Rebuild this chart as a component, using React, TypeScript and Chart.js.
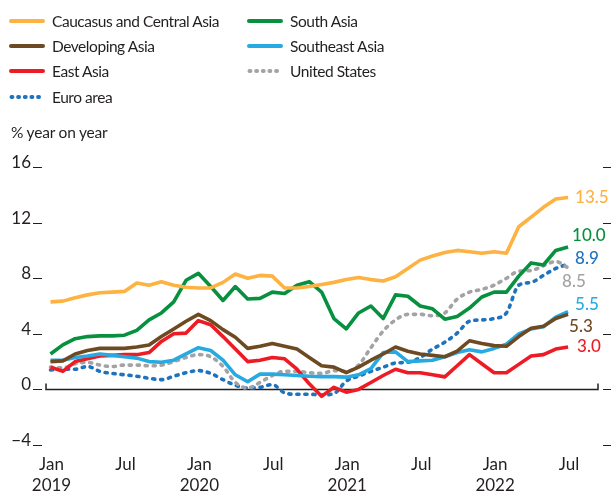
import React, { useEffect, useRef } from "react";
import { Chart, registerables } from "chart.js";

Chart.register(...registerables);

// ---- Data (monthly, Jan 2019 .. Jul 2022) ----
const caucasus = [6.3, 6.35, 6.6, 6.8, 6.95, 7.0, 7.05, 7.65, 7.5, 7.75, 7.5, 7.35, 7.3, 7.3, 7.7, 8.3, 8.0, 8.2, 8.15, 7.3, 7.3, 7.4, 7.55, 7.7, 7.9, 8.05, 7.9, 7.8, 8.1, 8.7, 9.3, 9.6, 9.85, 10.0, 9.9, 9.8, 9.9, 9.8, 11.7, 12.4, 13.1, 13.7, 13.8];
const southAsia = [2.55, 3.2, 3.65, 3.8, 3.85, 3.85, 3.9, 4.25, 5.0, 5.5, 6.3, 7.85, 8.35, 7.4, 6.4, 7.4, 6.5, 6.55, 7.0, 6.9, 7.5, 7.75, 7.0, 5.1, 4.35, 5.5, 6.0, 5.1, 6.8, 6.7, 6.0, 5.8, 5.05, 5.25, 5.85, 6.65, 7.0, 7.0, 8.15, 9.1, 8.95, 10.0, 10.25];
const developingAsia = [2.0, 2.05, 2.55, 2.8, 2.95, 2.95, 2.95, 3.05, 3.2, 3.8, 4.35, 4.9, 5.4, 4.95, 4.3, 3.75, 2.95, 3.1, 3.3, 3.1, 2.9, 2.3, 1.7, 1.6, 1.2, 1.6, 2.1, 2.55, 3.05, 2.75, 2.55, 2.45, 2.35, 2.75, 3.5, 3.3, 3.15, 3.1, 3.8, 4.4, 4.55, 5.1, 5.4];
const eastAsia = [1.6, 1.3, 2.0, 2.2, 2.4, 2.45, 2.5, 2.5, 2.65, 3.45, 4.0, 4.05, 4.95, 4.65, 3.8, 2.9, 2.0, 2.1, 2.3, 2.2, 1.45, 0.4, -0.5, 0.15, -0.2, 0.0, 0.5, 1.0, 1.45, 1.2, 1.2, 1.05, 0.9, 1.7, 2.5, 1.85, 1.2, 1.2, 1.8, 2.4, 2.5, 2.9, 3.05];
const southeastAsia = [2.1, 2.1, 2.3, 2.4, 2.55, 2.45, 2.35, 2.25, 2.0, 1.95, 2.1, 2.55, 3.0, 2.8, 2.1, 1.05, 0.55, 1.1, 1.1, 1.05, 1.0, 0.95, 0.92, 0.92, 0.88, 1.05, 1.5, 2.65, 2.7, 2.0, 2.05, 2.1, 2.35, 2.65, 2.85, 2.7, 2.95, 3.25, 4.0, 4.35, 4.5, 5.2, 5.6];
const unitedStates = [1.6, 1.55, 1.85, 1.95, 1.75, 1.65, 1.75, 1.75, 1.7, 1.75, 2.0, 2.3, 2.5, 2.35, 1.65, 0.5, 0.1, 0.5, 1.0, 1.3, 1.3, 1.2, 1.15, 1.35, 1.3, 1.75, 3.0, 4.2, 5.0, 5.4, 5.4, 5.3, 5.5, 6.5, 7.0, 7.2, 7.5, 8.0, 8.5, 8.55, 8.9, 9.2, 8.75];
const euroArea = [1.4, 1.45, 1.45, 1.65, 1.3, 1.15, 1.05, 0.95, 0.8, 0.7, 0.95, 1.2, 1.35, 1.15, 0.7, 0.3, 0.1, 0.15, 0.35, -0.25, -0.35, -0.35, -0.4, -0.3, 0.6, 0.95, 1.3, 1.6, 1.9, 1.95, 2.3, 2.9, 3.4, 4.05, 4.9, 5.0, 5.1, 5.5, 7.5, 7.7, 8.2, 8.7, 9.0];

const xTickIndex = [0, 6, 12, 18, 24, 30, 36, 42];
const xTickMonth = ["Jan", "Jul", "Jan", "Jul", "Jan", "Jul", "Jan", "Jul"];
const xTickYear = ["2019", "", "2020", "", "2021", "", "2022", ""];
const yTicks = [-4, 0, 4, 8, 12, 16];
const yTickLabels = ["\u22124", "0", "4", "8", "12", "16"];

const seriesNames = ["Caucasus and Central Asia", "Developing Asia", "East Asia", "Euro area", "South Asia", "Southeast Asia", "United States"];
const endLabels = ["13.5", "5.3", "3.0", "8.9", "10.0", "5.5", "8.5"];

const COLORS = {
  orange: "#FDB241",
  brown: "#6E4A23",
  red: "#ED1C24",
  blue: "#1F72BD",
  green: "#07913F",
  lightBlue: "#27AAE1",
  gray: "#A3A3A3",
};
const TEXT = "#231F20";

type Spec = { name: string; values: number[]; color: string; dotted: boolean; label: string; dx: number; dy: number };

const specs: Spec[] = [
  { name: seriesNames[0], values: caucasus, color: COLORS.orange, dotted: false, label: endLabels[0], dx: 7, dy: 0 },
  { name: seriesNames[4], values: southAsia, color: COLORS.green, dotted: false, label: endLabels[4], dx: 4, dy: -11 },
  { name: seriesNames[1], values: developingAsia, color: COLORS.brown, dotted: false, label: endLabels[1], dx: 1, dy: 12 },
  { name: seriesNames[5], values: southeastAsia, color: COLORS.lightBlue, dotted: false, label: endLabels[5], dx: 7, dy: -7 },
  { name: seriesNames[2], values: eastAsia, color: COLORS.red, dotted: false, label: endLabels[2], dx: 9, dy: 0 },
  { name: seriesNames[6], values: unitedStates, color: COLORS.gray, dotted: true, label: endLabels[6], dx: -6, dy: 14 },
  { name: seriesNames[3], values: euroArea, color: COLORS.blue, dotted: true, label: endLabels[3], dx: 7, dy: -6 },
];

const legendItems = [
  { name: seriesNames[0], color: COLORS.orange, dotted: false, col: 0, row: 0 },
  { name: seriesNames[1], color: COLORS.brown, dotted: false, col: 0, row: 1 },
  { name: seriesNames[2], color: COLORS.red, dotted: false, col: 0, row: 2 },
  { name: seriesNames[3], color: COLORS.blue, dotted: true, col: 0, row: 3 },
  { name: seriesNames[4], color: COLORS.green, dotted: false, col: 1, row: 0 },
  { name: seriesNames[5], color: COLORS.lightBlue, dotted: false, col: 1, row: 1 },
  { name: seriesNames[6], color: COLORS.gray, dotted: true, col: 1, row: 2 },
];

const FONT = "Lato, 'Open Sans', sans-serif";

const axisPlugin = {
  id: "customAxes",
  beforeDatasetsDraw(chart: any) {
    const { ctx, chartArea, scales } = chart;
    const y0 = scales.y.getPixelForValue(0);
    ctx.save();
    ctx.strokeStyle = TEXT;
    ctx.lineWidth = 1.5;
    ctx.beginPath();
    ctx.moveTo(chartArea.left, y0);
    ctx.lineTo(chartArea.right, y0);
    ctx.moveTo(chartArea.left, y0 - 6);
    ctx.lineTo(chartArea.left, y0 + 0.75);
    ctx.moveTo(chartArea.right, y0 - 6);
    ctx.lineTo(chartArea.right, y0 + 0.75);
    ctx.stroke();
    ctx.restore();
  },
  afterDraw(chart: any) {
    const { ctx, scales } = chart;
    const xs = scales.x;
    const ys = scales.y;
    ctx.save();
    ctx.fillStyle = TEXT;
    ctx.strokeStyle = TEXT;
    ctx.lineWidth = 1.2;
    ctx.font = `17px ${FONT}`;
    ctx.textBaseline = "alphabetic";
    yTicks.forEach((v, k) => {
      const y = Math.round(ys.getPixelForValue(v)) + 0.5;
      ctx.beginPath();
      ctx.moveTo(33, y);
      ctx.lineTo(42, y);
      ctx.moveTo(603, y);
      ctx.lineTo(611, y);
      ctx.stroke();
      ctx.textAlign = "right";
      ctx.fillText(yTickLabels[k], 31, y + 0.5);
    });
    ctx.textAlign = "center";
    xTickIndex.forEach((i, k) => {
      const x = xs.getPixelForValue(i) + 1;
      ctx.fillText(xTickMonth[k], x, 470);
      if (xTickYear[k]) ctx.fillText(xTickYear[k], x, 491);
    });
    // end labels
    ctx.textAlign = "left";
    ctx.textBaseline = "middle";
    ctx.font = `500 17px ${FONT}`;
    specs.forEach((s) => {
      const last = s.values.length - 1;
      const x = xs.getPixelForValue(last);
      const y = ys.getPixelForValue(s.values[last]);
      ctx.fillStyle = s.color;
      ctx.fillText(s.label, x + s.dx, y + s.dy);
    });
    ctx.restore();
  },
};

function LegendSwatch({ color, dotted }: { color: string; dotted: boolean }) {
  return (
    <svg width={36} height={8} style={{ display: "block" }}>
      {dotted ? (
        <line x1={2.5} y1={4} x2={34} y2={4} stroke={color} strokeWidth={4} strokeLinecap="round" strokeDasharray="0.9 5.75" />
      ) : (
        <line x1={2} y1={4} x2={34} y2={4} stroke={color} strokeWidth={4} strokeLinecap="round" />
      )}
    </svg>
  );
}

export default function App() {
  const ref = useRef<HTMLCanvasElement>(null);

  useEffect(() => {
    document.body.style.margin = "0";
    const canvas = ref.current;
    if (!canvas) return;
    const chart = new Chart(canvas, {
      type: "line",
      data: {
        datasets: specs.map((s) => ({
          label: s.name,
          data: s.values.map((v, i) => ({ x: i, y: v })),
          borderColor: s.color,
          backgroundColor: s.color,
          borderWidth: 3.6,
          borderDash: s.dotted ? [2.2, 5.8] : [],
          borderCapStyle: s.dotted ? "round" : "butt",
          borderJoinStyle: "round",
          cubicInterpolationMode: s.dotted ? "monotone" : "default",
          tension: 0,
          pointRadius: 0,
          fill: false,
        })),
      },
      options: {
        animation: false,
        responsive: false,
        devicePixelRatio: 1,
        layout: { padding: { left: 46, right: 16, top: 167, bottom: 48 } },
        scales: {
          x: { type: "linear", min: -0.365, max: 44.43, display: false },
          y: { type: "linear", min: -4, max: 16, display: false },
        },
        plugins: { legend: { display: false }, tooltip: { enabled: false } },
      },
      plugins: [axisPlugin],
    } as any);
    return () => chart.destroy();
  }, []);

  const rowCenters = [20.5, 45.5, 71, 96.5];
  const colSwatch = [9, 247];
  const colText = [52, 290];

  return (
    <div style={{ position: "relative", width: 614, height: 493, background: "#fff", fontFamily: FONT, color: TEXT, overflow: "hidden" }}>
      <canvas ref={ref} width={614} height={493} style={{ position: "absolute", left: 0, top: 0 }} />
      {legendItems.map((it) => (
        <React.Fragment key={it.name}>
          <div style={{ position: "absolute", left: colSwatch[it.col], top: rowCenters[it.row] - 4 }}>
            <LegendSwatch color={it.color} dotted={it.dotted} />
          </div>
          <div style={{ position: "absolute", left: colText[it.col], top: rowCenters[it.row] - 10, fontSize: 15.5, letterSpacing: "-0.45px", lineHeight: "20px", whiteSpace: "nowrap" }}>
            {it.name}
          </div>
        </React.Fragment>
      ))}
      <div style={{ position: "absolute", left: 11, top: 122, fontSize: 15.5, letterSpacing: "-0.2px", lineHeight: "20px", whiteSpace: "nowrap" }}>% year on year</div>
    </div>
  );
}
